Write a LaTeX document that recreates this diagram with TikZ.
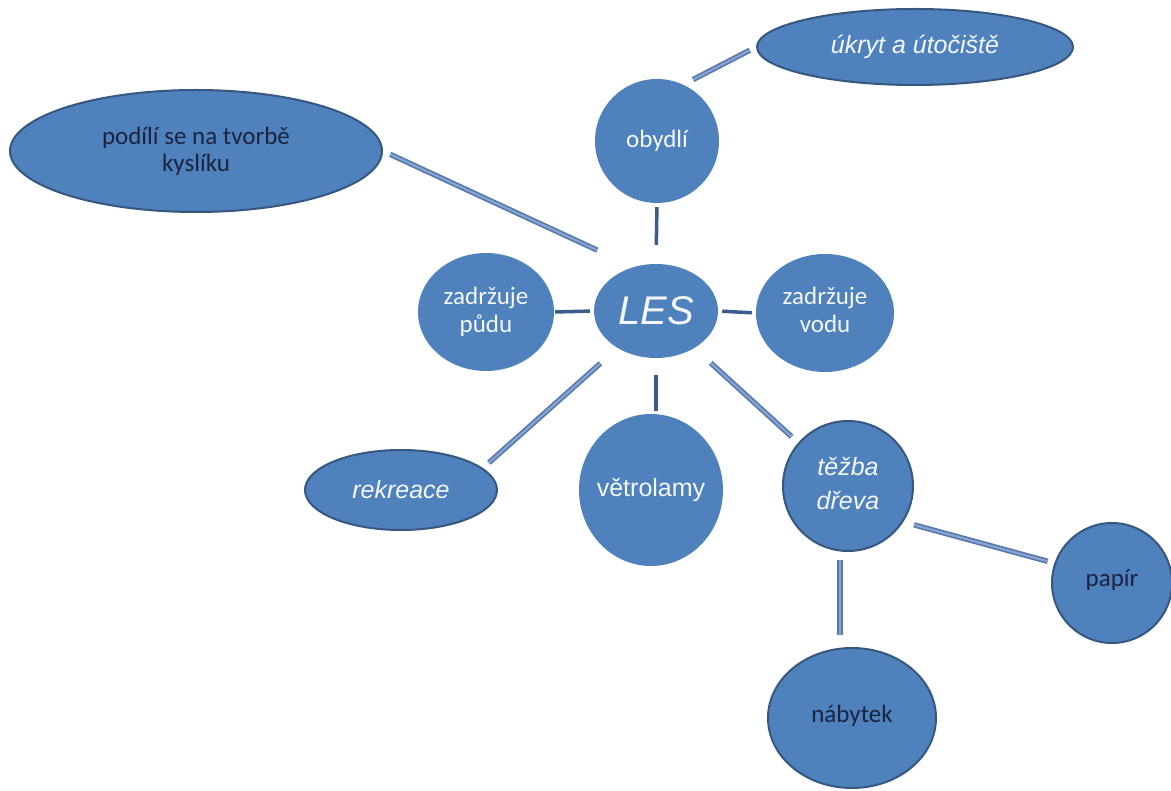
\documentclass[tikz,border=0pt]{standalone}
\usepackage{fontspec}
\setmainfont{Carlito}
\newfontfamily\arialfam{Liberation Sans}
\usetikzlibrary{shapes.geometric}
\definecolor{nodefill}{HTML}{4F81BD}
\definecolor{nodeedge}{HTML}{36577F}
\definecolor{darkln}{HTML}{3C5D8C}
\definecolor{lightln}{HTML}{5578AD}
\definecolor{lightin}{HTML}{87A3CE}
\definecolor{wtext}{HTML}{F4F7FB}
\definecolor{dtext}{HTML}{1A2340}
\begin{document}
\begin{tikzpicture}[x=1pt,y=-1pt,
  bub/.style={ellipse, fill=nodefill, inner sep=0pt, align=center, text=wtext},
  rim/.style={draw=nodeedge, line width=2pt},
  cal/.style={font=\fontsize{25}{28}\selectfont},
  ari/.style={font=\arialfam\itshape\fontsize{25}{32}\selectfont},
  darkline/.style={draw=darkln, line width=3.5pt},
  lightline/.style={draw=lightln, line width=1.6pt, double=lightin, double distance=2.2pt},
]
\useasboundingbox (0,0) rectangle (1171,791);
% nodes
\node[bub, rim, cal, text=dtext, font=\fontsize{25}{27}\selectfont, minimum width=372, minimum height=122] (podili) at (196,151) {podílí se na tvorbě\\kyslíku};
\node[bub, rim, ari, minimum width=316, minimum height=76] (ukryt) at (915,47) {úkryt a útočiště};
\node[bub, cal, minimum width=124, minimum height=124] (obydli) at (657,141) {obydlí};
\node[bub, font=\arialfam\itshape\fontsize{40}{44}\selectfont, minimum width=124, minimum height=94] (les) at (656,311) {LES};
\node[bub, cal, minimum width=136, minimum height=118] (pudu) at (486,312) {zadržuje\\půdu};
\node[bub, cal, minimum width=138, minimum height=118] (vodu) at (825,313) {\raisebox{4pt}{\begin{tabular}{@{}c@{}}zadržuje\\vodu\end{tabular}}};
\node[bub, rim, ari, minimum width=192, minimum height=80] (rekreace) at (401,490) {rekreace};
\node[bub, font=\arialfam\fontsize{25}{30}\selectfont, minimum width=144, minimum height=152] (vetrolamy) at (651,490) {\makebox[0pt]{větrolamy}};
\node[bub, rim, ari, minimum width=130, minimum height=130] (tezba) at (848,486) {\raisebox{5pt}{\begin{tabular}{@{}c@{}}těžba\\[2pt]dřeva\end{tabular}}};
\node[bub, rim, cal, text=dtext, minimum width=120, minimum height=120] (papir) at (1112,583) {\raisebox{10pt}{papír}};
\node[bub, rim, cal, text=dtext, minimum width=168, minimum height=140] (nabytek) at (852,718) {\raisebox{8pt}{nábytek}};
% connectors
\draw[lightline, shorten <=11pt, shorten >=7pt] (obydli.65) -- (ukryt.west);
\draw[darkline, shorten <=4pt, shorten >=19pt] (obydli.south) -- (les.north);
\draw[lightline, shorten <=8pt, shorten >=40pt] (podili.east) -- (les.117);
\draw[darkline, shorten <=1pt, shorten >=4pt] (pudu.east) -- (les.west);
\draw[darkline, shorten <=4pt, shorten >=4pt] (les.east) -- (vodu.west);
\draw[lightline, shorten <=23pt, shorten >=8pt] (les.224) -- (rekreace.15);
\draw[darkline, shorten <=17pt, shorten >=3pt] (les.south) -- (les.south |- vetrolamy.north);
\draw[lightline, shorten <=22pt, shorten >=9pt] (les.316) -- (tezba.139);
\draw[lightline, shorten <=11pt, shorten >=7pt] (tezba.327) -- (papir.161);
\draw[lightline, shorten <=8pt, shorten >=12pt] (tezba.263) -- (tezba.263 |- nabytek.north);
\end{tikzpicture}
\end{document}
